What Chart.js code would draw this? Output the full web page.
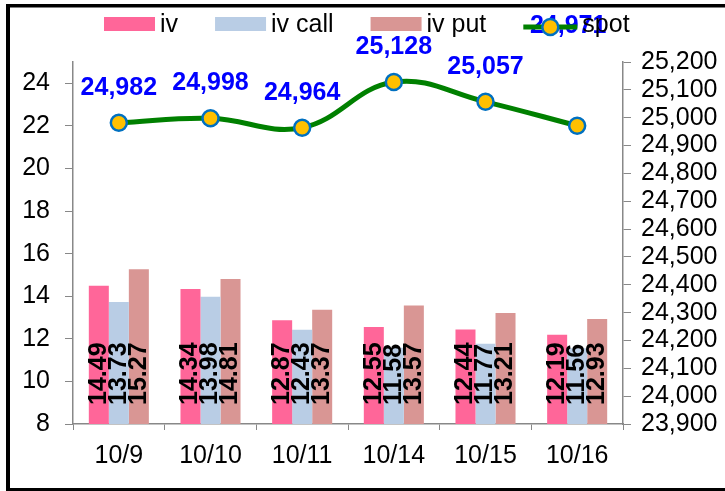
<!DOCTYPE html>
<html>
<head>
<meta charset="utf-8">
<script src="https://cdn.jsdelivr.net/npm/chart.js@4"></script>
<style>
  body { margin: 0; background: #fff; }
  canvas { display: block; }
</style>
</head>
<body>
<canvas id="ivChart" width="725" height="491"></canvas>
<script>
// data
var days = ['10/9', '10/10', '10/11', '10/14', '10/15', '10/16'];
var iv = [14.49, 14.34, 12.87, 12.55, 12.44, 12.19];
var ivCall = [13.73, 13.98, 12.43, 11.58, 11.77, 11.56];
var ivPut = [15.27, 14.81, 13.37, 13.57, 13.21, 12.93];
var spot = [24982, 24998, 24964, 25128, 25057, 24971];

// tick labels
var ivTicks = [8, 10, 12, 14, 16, 18, 20, 22, 24];
var spotTicks = [23900, 24000, 24100, 24200, 24300, 24400, 24500, 24600, 24700, 24800, 24900, 25000, 25100, 25200];

var FONT = '"Liberation Sans", Arial, sans-serif';

function fmt(n) {
    return n.toLocaleString('en-US');
}

// frame, value labels and legend
var extras = {
    id: 'extras',
    beforeDraw: function (chart) {
        var ctx = chart.ctx;
        ctx.save();
        ctx.fillStyle = '#000';
        ctx.fillRect(6, 4, 725, 3.5);
        ctx.fillRect(6, 4, 4, 487);
        ctx.fillRect(6, 488, 725, 3);
        ctx.restore();
    },
    afterDatasetsDraw: function (chart) {
        var ctx = chart.ctx;
        var bottom = chart.chartArea.bottom;
        ctx.save();

        // bar labels, rotated, sitting near the base
        ctx.font = 'bold 25px ' + FONT;
        ctx.fillStyle = '#000';
        ctx.textAlign = 'left';
        ctx.textBaseline = 'middle';
        chart.data.datasets.forEach(function (ds, i) {
            if (ds.type === 'line') return;
            chart.getDatasetMeta(i).data.forEach(function (bar, j) {
                ctx.save();
                ctx.translate(bar.x, bottom - 19);
                ctx.rotate(-Math.PI / 2);
                ctx.fillText(ds.data[j].toFixed(2), 0, 0);
                ctx.restore();
            });
        });

        // spot labels
        ctx.fillStyle = '#0000FF';
        ctx.textAlign = 'center';
        chart.getDatasetMeta(0).data.forEach(function (pt, j) {
            var x = pt.x, y = pt.y - 35;
            if (j === spot.length - 1) { x = pt.x - 9; y = 26; } // last one was dragged into the legend row
            ctx.fillText(fmt(spot[j]), x, y);
        });

        // legend
        ctx.font = '25px ' + FONT;
        ctx.textAlign = 'left';
        var x = 104, y = 24;
        var order = [1, 2, 3, 0];
        order.forEach(function (i) {
            var ds = chart.data.datasets[i];
            if (ds.type === 'line') {
                ctx.strokeStyle = ds.borderColor;
                ctx.lineWidth = 5;
                ctx.beginPath();
                ctx.moveTo(x, y + 3);
                ctx.lineTo(x + 54, y + 3);
                ctx.stroke();
                ctx.beginPath();
                ctx.arc(x + 27, y + 3, 8, 0, Math.PI * 2);
                ctx.fillStyle = ds.pointBackgroundColor;
                ctx.fill();
                ctx.lineWidth = 2.5;
                ctx.strokeStyle = ds.pointBorderColor;
                ctx.stroke();
                x += 59;
            } else {
                ctx.fillStyle = ds.backgroundColor;
                ctx.fillRect(x, y - 7, 51, 14);
                x += 56;
            }
            ctx.fillStyle = '#000';
            ctx.fillText(ds.label, x, y + 1);
            x += ctx.measureText(ds.label).width + 37;
        });

        ctx.restore();
    }
};

var axisGrid = {
    display: true,
    drawOnChartArea: false,
    drawTicks: true,
    tickLength: 8,
    color: '#888'
};

function useTicks(list) {
    return function (axis) {
        axis.ticks = list.map(function (v) { return { value: v }; });
    };
}

new Chart(document.getElementById('ivChart'), {
    type: 'bar',
    data: {
        labels: days,
        datasets: [{
            type: 'line',
            label: 'spot',
            data: spot,
            yAxisID: 'y1',
            order: 0,
            borderColor: '#008000',
            borderWidth: 5,
            tension: 0.4,
            pointRadius: 8,
            pointBorderWidth: 2.5,
            pointBackgroundColor: '#FFC000',
            pointBorderColor: '#0070C0'
        }, {
            label: 'iv',
            data: iv,
            order: 1,
            backgroundColor: '#FF6699'
        }, {
            label: 'iv call',
            data: ivCall,
            order: 1,
            backgroundColor: '#B9CDE5'
        }, {
            label: 'iv put',
            data: ivPut,
            order: 1,
            backgroundColor: '#D99694'
        }]
    },
    options: {
        responsive: false,
        animation: false,
        datasets: {
            bar: { barPercentage: 1, categoryPercentage: 0.655 }
        },
        layout: { padding: { top: 62, left: 22, right: 7, bottom: 9 } },
        plugins: {
            legend: { display: false },
            tooltip: { enabled: false }
        },
        scales: {
            x: {
                grid: Object.assign({}, axisGrid, { tickLength: 6 }),
                border: { display: true, color: '#888', width: 1.5 },
                ticks: { font: { family: FONT, size: 25 }, color: '#000', padding: 11, maxRotation: 0 },
                afterFit: function (axis) { axis.height = 58; }
            },
            y: {
                position: 'left',
                min: 8,
                max: 25,
                grid: axisGrid,
                border: { display: true, color: '#888', width: 1.5 },
                ticks: { font: { family: FONT, size: 25 }, color: '#000', padding: 15, autoSkip: false },
                afterBuildTicks: useTicks(ivTicks),
                afterFit: function (axis) { axis.width = 51; }
            },
            y1: {
                position: 'right',
                min: 23900,
                max: 25200,
                grid: axisGrid,
                border: { display: true, color: '#888', width: 1.5 },
                ticks: {
                    font: { family: FONT, size: 25 },
                    color: '#000',
                    padding: 10,
                    autoSkip: false,
                    callback: function (v) { return fmt(v); }
                },
                afterBuildTicks: useTicks(spotTicks),
                afterFit: function (axis) { axis.width = 95; }
            }
        }
    },
    plugins: [extras]
});
</script>
</body>
</html>
